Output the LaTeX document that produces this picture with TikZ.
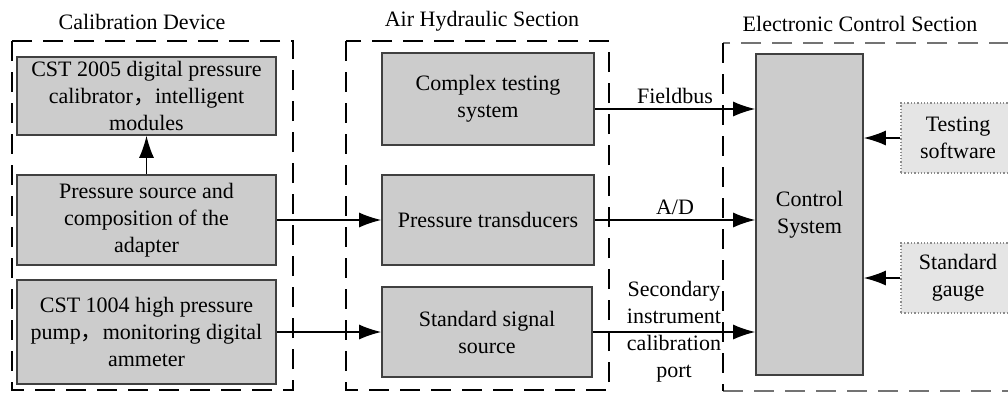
\documentclass[tikz,border=0pt]{standalone}
\usepackage{fontspec}
\setmainfont{Liberation Serif}
\newfontfamily\cjk{Noto Sans CJK SC}
\usetikzlibrary{arrows.meta}

\begin{document}
\begin{tikzpicture}[x=1pt,y=-1pt,>={Latex[length=22pt,width=15pt]},
  every node/.style={font=\fontsize{22}{27}\selectfont},
  devbox/.style={draw=black!75,line width=1.6pt,fill=black!20,align=center,inner sep=0pt},
  auxbox/.style={draw=black!45,dotted,line width=1.3pt,fill=black!10,align=center,inner sep=0pt},
  secframe/.style={line width=1.5pt,dash pattern=on 20pt off 11pt},
  sig/.style={line width=1.4pt,->}]
\useasboundingbox (0,0) rectangle (1008,392);
% section frames
\draw[secframe] (12,41) rectangle (293,390);
\draw[secframe] (346,41) rectangle (609,390);
\draw[secframe,black!55] (1040,43) -- (723,43) (723,391) -- (1040,391);
\draw[secframe] (723,43) -- (723,391);
\node (calt) at (142,22) {Calibration Device};
\node (airt) at (482,21) {Air Hydraulic Section};
\node (elet) at (860,24) {Electronic Control Section};
% calibration device
\node[devbox,minimum width=259pt,minimum height=78pt] (cal) at (146.5,96)
  {CST 2005 digital pressure\\calibrator{\cjk ，}intelligent\\modules};
\node[devbox,minimum width=259pt,minimum height=90pt] (src) at (146.5,220)
  {Pressure source and\\composition of the\\adapter};
\node[devbox,minimum width=259pt,minimum height=104pt] (pump) at (146.5,332)
  {CST 1004 high pressure\\pump{\cjk ，}monitoring digital\\ammeter};
% air hydraulic section
\node[devbox,minimum width=212pt,minimum height=92pt] (cts) at (488,99)
  {Complex testing\\system};
\node[devbox,minimum width=212pt,minimum height=90pt] (ptr) at (488,220)
  {Pressure transducers};
\node[devbox,minimum width=210pt,minimum height=90pt] (sss) at (487,332)
  {Standard signal\\source};
% electronic control section
\node[devbox,minimum width=107pt,minimum height=321pt] (ctrl) at (809.5,214.5)
  {Control\\System};
\node[auxbox,minimum width=114pt,minimum height=70pt] (tsw) at (958,138)
  {Testing\\software};
\node[auxbox,minimum width=114pt,minimum height=70pt] (sgg) at (958,278)
  {Standard\\gauge};
% signals
\draw[sig] (src.north) -- (cal.south);
\draw[sig] (src.east) -- (ptr.west);
\draw[sig] (pump.east) -- (sss.west);
\coordinate (fb) at ([yshift=-10pt]cts.east);
\draw[sig] (fb) -- (fb -| ctrl.west) node[midway,above=1pt] {Fieldbus};
\draw[sig] (ptr.east) -- (ptr.east -| ctrl.west) node[midway,above=1pt] {A/D};
\draw[sig] (sss.east) -- (sss.east -| ctrl.west)
  node[midway,align=center] {Secondary\\instrument\\calibration\\port};
\draw[sig] (tsw.west) -- (tsw.west -| ctrl.east);
\draw[sig] (sgg.west) -- (sgg.west -| ctrl.east);
\end{tikzpicture}
\end{document}
